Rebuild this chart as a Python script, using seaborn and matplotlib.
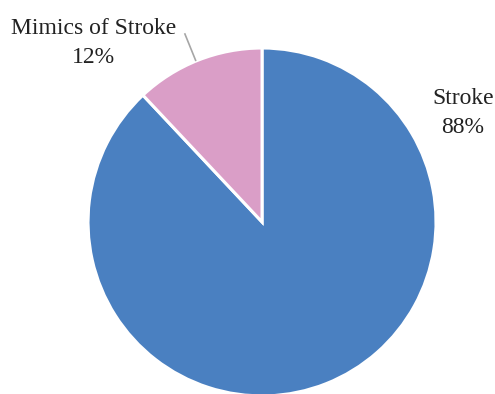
import matplotlib
matplotlib.use("Agg")
import matplotlib.pyplot as plt
import seaborn as sns

sns.set_theme(style="white")
plt.rcParams["font.family"] = ["Liberation Serif", "DejaVu Serif"]

categories = ["Stroke", "Mimics of Stroke"]
shares = [88, 12]
colors = ["#4A80C1", "#DA9EC7"]

fig = plt.figure(figsize=(4.95, 3.94), dpi=100)
ax = fig.add_axes([0, 0, 1, 1])

ax.pie(shares, colors=colors, startangle=90, counterclock=False, radius=1.0,
       wedgeprops=dict(edgecolor="white", linewidth=2.2))

ax.set_xlim(-1.506, 1.339)
ax.set_ylim(-0.989, 1.276)
ax.set_aspect("auto")
ax.axis("off")

txt = dict(ha="center", va="center", fontsize=17, color="#222222", linespacing=1.5)
ax.text(1.155, 0.625, f"{categories[0]}\n{shares[0]}%", **txt)
ax.text(-0.97, 1.03, f"{categories[1]}\n{shares[1]}%", **txt)
ax.plot([-0.445, -0.38], [1.085, 0.925], color="#A6A6A6", lw=1.2,
        solid_capstyle="butt")

fig.savefig("out.png", dpi=100)
